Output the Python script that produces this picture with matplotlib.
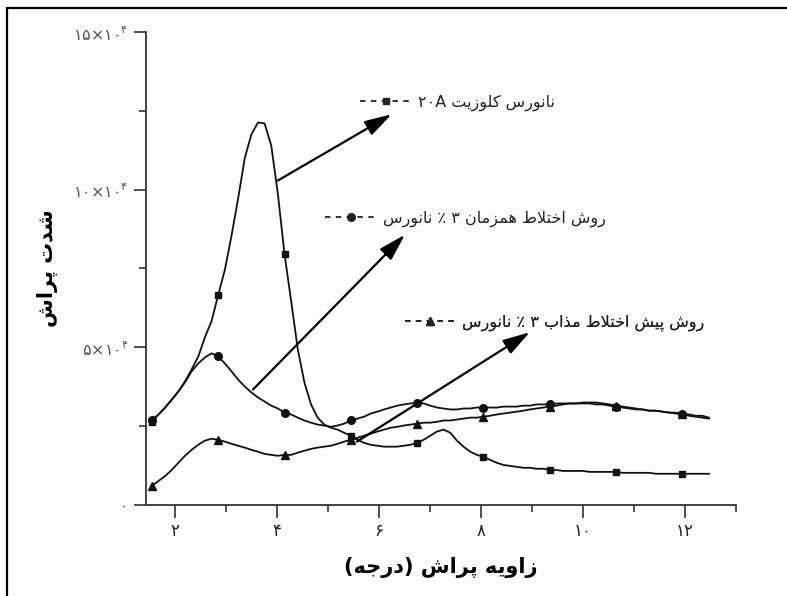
import re

import matplotlib.pyplot as plt
from matplotlib.lines import Line2D
from matplotlib.patches import Rectangle

plt.rcParams['font.family'] = ['DejaVu Sans']

# diffraction angle 2-theta (deg)
two_theta = [1.55, 1.68, 1.81, 1.94, 2.07, 2.20, 2.33, 2.46, 2.59, 2.72,
             2.85, 2.98, 3.11, 3.24, 3.37, 3.50, 3.63, 3.76, 3.89, 4.02,
             4.15, 4.28, 4.41, 4.54, 4.67, 4.80, 4.93, 5.06, 5.19, 5.32,
             5.45, 5.58, 5.71, 5.84, 5.97, 6.10, 6.23, 6.36, 6.49, 6.62,
             6.75, 6.88, 7.01, 7.14, 7.27, 7.40, 7.53, 7.66, 7.79, 7.92,
             8.05, 8.18, 8.31, 8.44, 8.57, 8.70, 8.83, 8.96, 9.09, 9.22,
             9.35, 9.48, 9.61, 9.74, 9.87, 10.00, 10.13, 10.26, 10.39, 10.52,
             10.65, 10.78, 10.91, 11.04, 11.17, 11.30, 11.43, 11.56, 11.69, 11.82,
             11.95, 12.08, 12.21, 12.34, 12.47]

# intensity, thousands of counts
cloisite_20a = [26.4, 28.7, 30.9, 33.4, 36.0, 39.2, 43.0, 47.1, 53.2, 58.3,
                66.6, 74.5, 85.3, 97.1, 109.9, 117.5, 121.3, 121.0, 114.0, 98.7,
                79.6, 64.7, 49.4, 38.9, 31.9, 27.7, 25.5, 24.5, 23.9, 22.9,
                22.0, 20.7, 19.7, 19.1, 18.8, 18.5, 18.5, 18.5, 18.8, 19.1,
                19.7, 20.7, 22.0, 23.3, 23.9, 22.9, 20.4, 18.5, 16.9, 15.9,
                15.3, 14.3, 13.4, 12.7, 12.4, 12.1, 11.8, 11.8, 11.5, 11.5,
                11.1, 11.1, 10.8, 10.8, 10.8, 10.8, 10.5, 10.5, 10.5, 10.5,
                10.5, 10.2, 10.2, 10.2, 10.2, 10.2, 9.9, 9.9, 9.9, 9.9,
                9.9, 9.9, 9.9, 9.9, 9.9]

simultaneous_3pct = [27.1, 28.7, 30.9, 33.4, 36.0, 38.9, 42.4, 44.9, 46.8, 48.1,
                     47.1, 44.9, 42.4, 39.8, 37.6, 35.7, 34.1, 32.8, 31.5, 30.6,
                     29.3, 28.7, 27.7, 26.8, 26.1, 25.5, 25.2, 24.8, 25.2, 25.8,
                     26.8, 27.4, 28.0, 29.0, 29.6, 30.3, 30.9, 31.5, 31.9, 32.2,
                     32.5, 32.2, 31.5, 30.9, 30.6, 30.3, 30.3, 30.6, 30.6, 30.9,
                     30.9, 30.9, 30.9, 31.2, 31.2, 31.2, 31.5, 31.5, 31.9, 31.9,
                     31.9, 32.2, 32.2, 32.2, 32.2, 32.2, 32.2, 31.9, 31.9, 31.5,
                     31.2, 30.9, 30.6, 30.3, 30.3, 29.9, 29.9, 29.6, 29.3, 29.3,
                     29.0, 28.7, 28.3, 28.3, 27.7]

premix_melt_3pct = [6.1, 7.6, 9.2, 11.1, 13.4, 15.6, 17.5, 19.1, 20.4, 21.0,
                    20.7, 20.1, 19.4, 18.8, 18.2, 17.5, 16.9, 16.2, 15.9, 15.6,
                    15.9, 15.9, 16.6, 17.2, 17.8, 18.2, 18.5, 18.8, 19.4, 20.1,
                    20.7, 21.3, 22.0, 22.6, 23.3, 23.9, 24.5, 24.8, 25.2, 25.5,
                    25.8, 26.1, 26.1, 26.4, 26.8, 26.8, 27.1, 27.4, 27.7, 27.7,
                    28.0, 28.3, 28.7, 29.0, 29.3, 29.6, 29.9, 30.3, 30.6, 30.9,
                    31.2, 31.5, 31.9, 32.2, 32.2, 32.5, 32.5, 32.5, 32.2, 31.9,
                    31.5, 31.2, 30.9, 30.6, 30.3, 29.9, 29.9, 29.6, 29.3, 29.0,
                    28.7, 28.3, 28.0, 27.7, 27.4]

series_labels = ['نانورس کلوزیت ۲۰A',
                 'روش اختلاط همزمان ۳ ٪ نانورس',
                 'روش پیش اختلاط مذاب ۳ ٪ نانورس']
x_ticks = [2, 4, 6, 8, 10, 12]
x_tick_labels = ['۲', '۴', '۶', '۸', '۱۰', '۱۲']
y_ticks = [0, 50000, 100000, 150000]
y_tick_labels = ['۰', r'$\mathregular{۵×۱۰^{۴}}$',
                 r'$\mathregular{۱۰×۱۰^{۴}}$', r'$\mathregular{۱۵×۱۰^{۴}}$']
x_title = 'زاویه پراش (درجه)'
y_title = 'شدت پراش'

# isolated, final, initial, medial presentation forms
FORMS = {
    'ا': '\ufe8d\ufe8e', 'د': '\ufea9\ufeaa', 'ذ': '\ufeab\ufeac',
    'ر': '\ufead\ufeae', 'ز': '\ufeaf\ufeb0', 'و': '\ufeed\ufeee',
    'ب': '\ufe8f\ufe90\ufe91\ufe92', 'پ': '\ufb56\ufb57\ufb58\ufb59',
    'ت': '\ufe95\ufe96\ufe97\ufe98', 'ج': '\ufe9d\ufe9e\ufe9f\ufea0',
    'خ': '\ufea5\ufea6\ufea7\ufea8', 'س': '\ufeb1\ufeb2\ufeb3\ufeb4',
    'ش': '\ufeb5\ufeb6\ufeb7\ufeb8', 'ط': '\ufec1\ufec2\ufec3\ufec4',
    'ک': '\ufb8e\ufb8f\ufb90\ufb91', 'ل': '\ufedd\ufede\ufedf\ufee0',
    'م': '\ufee1\ufee2\ufee3\ufee4', 'ن': '\ufee5\ufee6\ufee7\ufee8',
    'ه': '\ufee9\ufeea\ufeeb\ufeec', 'ی': '\ufbfc\ufbfd\ufbfe\ufbff',
}


def joins_next(c):
    return c in FORMS and len(FORMS[c]) == 4


def fa(text):
    # shape letters, then put them in visual (left to right) order
    out = []
    i = 0
    while i < len(text):
        c = text[i]
        if c not in FORMS:
            out.append(c)
            i += 1
            continue
        jp = i > 0 and joins_next(text[i - 1])
        if c == 'ل' and i + 1 < len(text) and text[i + 1] == 'ا':
            out.append('\ufefc' if jp else '\ufefb')
            i += 2
            continue
        jn = joins_next(c) and i + 1 < len(text) and text[i + 1] in FORMS
        f = FORMS[c]
        out.append(f[3] if jp and jn else f[1] if jp else f[2] if jn else f[0])
        i += 1
    runs = re.findall(r'[0-9A-Za-z\u06f0-\u06f9]+|.', ''.join(out))
    mirror = {'(': ')', ')': '('}
    return ''.join(mirror.get(r, r) for r in reversed(runs))


fig = plt.figure(figsize=(7.87, 5.96), dpi=100, facecolor='white')
fig.patches.append(Rectangle((0.009, -0.05), 1.05, 1.036, transform=fig.transFigure,
                             facecolor='#fdfdf9', edgecolor='black', lw=1.6, zorder=-10))
ax = fig.add_axes([0.1855, 0.1527, 0.7497, 0.7936])
ax.set_facecolor('none')

markers = ['s', 'o', '^']
sizes = [5, 5.5, 6]
for vals, m, ms in zip([cloisite_20a, simultaneous_3pct, premix_melt_3pct], markers, sizes):
    ax.plot(two_theta, [v * 1000 for v in vals], color='#111111', lw=1.3,
            marker=m, ms=ms, markevery=10)

# legends, one per label as in the original figure
legend_pos = [(0.350, 0.850), (0.290, 0.605), (0.425, 0.385)]
for lab, m, ms, pos in zip(series_labels, markers, sizes, legend_pos):
    h = Line2D([0], [0], color='#222222', lw=1.3, ls=(0, (3, 3)), marker=m, ms=ms)
    leg = ax.legend([h], [fa(lab)], loc='center left', bbox_to_anchor=pos,
                    frameon=False, borderpad=0, handlelength=3.2, handletextpad=0.4,
                    fontsize=11.5)
    for t in leg.get_texts():
        t.set_color('#222222')
    ax.add_artist(leg)

# arrows from the curves to their labels
arrows = [((4.02, 102900), (6.25, 123900)),
          ((3.53, 36600), (6.51, 85700)),
          ((5.57, 20100), (8.96, 54800))]
for start, end in arrows:
    ax.annotate('', xy=end, xytext=start,
                arrowprops=dict(arrowstyle='-|>,head_length=1.1,head_width=0.32',
                                mutation_scale=15, lw=1.6, color='black',
                                shrinkA=0, shrinkB=0))

ax.set_xlim(1.435, 13.0)
ax.set_ylim(0, 150000)
ax.spines['top'].set_visible(False)
ax.spines['right'].set_visible(False)
for s in ['left', 'bottom']:
    ax.spines[s].set_linewidth(1.3)
    ax.spines[s].set_color('#333333')

ax.set_xticks(x_ticks)
ax.set_xticklabels(x_tick_labels, fontsize=12, color='#222222')
ax.set_xticks([3, 5, 7, 9, 11, 13], minor=True)
ax.set_yticks(y_ticks)
ax.set_yticklabels(y_tick_labels, fontsize=11.5, color='#555555')
ax.set_yticks([25000, 75000, 125000], minor=True)
ax.tick_params(which='major', direction='out', length=9, width=1.2, color='#333333')
ax.tick_params(which='minor', direction='out', length=5, width=1.2, color='#333333')

ax.set_xlabel(fa(x_title), fontsize=15, fontweight='bold', labelpad=12)
ax.set_ylabel(fa(y_title), fontsize=15, fontweight='bold', labelpad=11)

fig.savefig('out.png', dpi=100, facecolor=fig.get_facecolor())
